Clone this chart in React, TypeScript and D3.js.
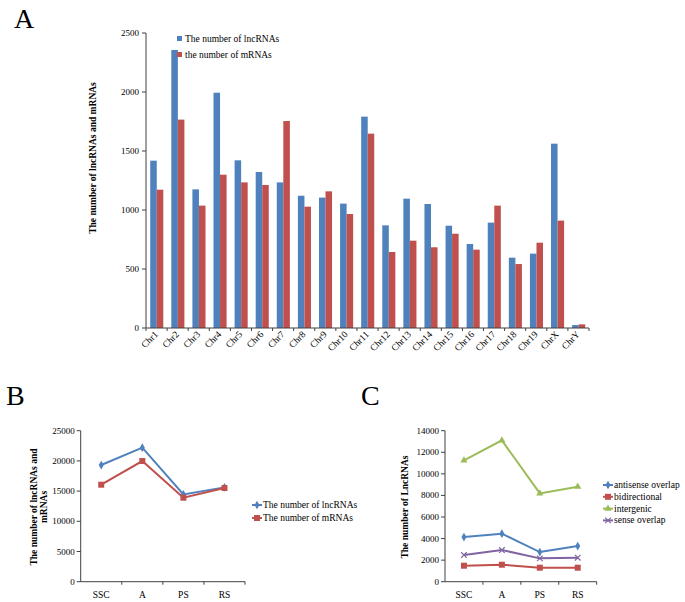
import * as d3 from 'd3'
import { useEffect, useRef } from "react";

const chromosomes = ['Chr1','Chr2','Chr3','Chr4','Chr5','Chr6','Chr7','Chr8','Chr9','Chr10','Chr11','Chr12','Chr13','Chr14','Chr15','Chr16','Chr17','Chr18','Chr19','ChrX','ChrY'];
const lncByChr = [1418, 2356, 1175, 1994, 1421, 1322, 1234, 1121, 1105, 1054, 1791, 870, 1096, 1051, 867, 712, 893, 596, 630, 1562, 25];
const mrnaByChr = [1172, 1766, 1037, 1299, 1234, 1212, 1754, 1028, 1158, 966, 1647, 644, 740, 684, 799, 664, 1037, 542, 723, 910, 31];
const chrTicks = [0, 500, 1000, 1500, 2000, 2500];

const stages = ['SSC', 'A', 'PS', 'RS'];
const lncTotal = [19316, 22185, 14459, 15618];
const mrnaTotal = [16060, 19978, 13907, 15508];
const totalTicks = [0, 5000, 10000, 15000, 20000, 25000];

const antisense = [4141, 4450, 2750, 3307];
const bidirectional = [1483, 1576, 1298, 1298];
const intergenic = [11249, 13104, 8190, 8808];
const senseOverlap = [2472, 2936, 2163, 2225];
const typeTicks = [0, 2000, 4000, 6000, 8000, 10000, 12000, 14000];

const BLUE = '#4F81BD';
const RED = '#C0504D';
const GREEN = '#9BBB59';
const PURPLE = '#8064A2';
const AXIS = '#404040';
const FONT = '"Liberation Serif", "Times New Roman", serif';

const drawMarker = (g, shape, x, y, color) => {
  if (shape === 'diamond') {
    g.append('path').attr('d', d3.symbol(d3.symbolDiamond, 22)()).attr('transform', `translate(${x},${y})`).attr('fill', color);
  } else if (shape === 'square') {
    g.append('rect').attr('x', x - 3).attr('y', y - 3).attr('width', 6).attr('height', 6).attr('fill', color);
  } else if (shape === 'triangle') {
    g.append('path').attr('d', d3.symbol(d3.symbolTriangle, 22)()).attr('transform', `translate(${x},${y})`).attr('fill', color);
  } else {
    g.append('path').attr('d', d3.symbol(d3.symbolX, 22)()).attr('transform', `translate(${x},${y})`)
      .attr('fill', 'none').attr('stroke', color).attr('stroke-width', 1.2);
  }
};

const App = () => {
  const svgRef = useRef(null);

  useEffect(() => {
    const svg = d3.select(svgRef.current);
    svg.selectAll('*').remove();

    // panel letters
    [['A', 14, 28], ['B', 6, 405], ['C', 361, 405]].forEach(([t, x, y]) => {
      svg.append('text').attr('x', x).attr('y', y).attr('font-size', 28).attr('font-family', FONT).text(t);
    });

    // ---------- A: bars per chromosome ----------
    const a = svg.append('g');
    const xA = d3.scaleBand().domain(chromosomes).range([146, 589]);
    const xSub = d3.scaleBand().domain(['lnc', 'm']).range([xA.bandwidth() * 0.2, xA.bandwidth() * 0.82]);
    const yA = d3.scaleLinear().domain([0, 2500]).range([328, 33]);

    chromosomes.forEach((c, i) => {
      a.append('rect').attr('x', xA(c) + xSub('lnc')).attr('y', yA(lncByChr[i]))
        .attr('width', xSub.bandwidth()).attr('height', yA(0) - yA(lncByChr[i])).attr('fill', BLUE);
      a.append('rect').attr('x', xA(c) + xSub('m')).attr('y', yA(mrnaByChr[i]))
        .attr('width', xSub.bandwidth()).attr('height', yA(0) - yA(mrnaByChr[i])).attr('fill', RED);
    });

    a.append('line').attr('x1', 146).attr('x2', 146).attr('y1', yA(2500)).attr('y2', yA(0)).attr('stroke', AXIS);
    a.append('line').attr('x1', 146).attr('x2', 589).attr('y1', yA(0)).attr('y2', yA(0)).attr('stroke', AXIS);
    chrTicks.forEach(t => {
      a.append('line').attr('x1', 142).attr('x2', 146).attr('y1', yA(t)).attr('y2', yA(t)).attr('stroke', AXIS);
      a.append('text').attr('x', 139).attr('y', yA(t) + 3).attr('text-anchor', 'end')
        .attr('font-size', 9).attr('font-family', FONT).text(t);
    });
    chromosomes.forEach(c => {
      a.append('line').attr('x1', xA(c)).attr('x2', xA(c)).attr('y1', yA(0)).attr('y2', yA(0) + 3).attr('stroke', AXIS);
      const cx = xA(c) + xA.bandwidth() / 2 + 2;
      a.append('text').attr('transform', `translate(${cx},${335}) rotate(-45)`).attr('text-anchor', 'end')
        .attr('font-size', 9.5).attr('font-family', FONT).text(c);
    });
    a.append('line').attr('x1', 589).attr('x2', 589).attr('y1', yA(0)).attr('y2', yA(0) + 3).attr('stroke', AXIS);

    a.append('text').attr('transform', 'translate(96,158) rotate(-90)').attr('text-anchor', 'middle')
      .attr('font-size', 9.5).attr('font-weight', 'bold').attr('font-family', FONT)
      .text('The number of lncRNAs and mRNAs');

    [['The number of lncRNAs', BLUE], ['the number of mRNAs', RED]].forEach(([t, col], i) => {
      a.append('rect').attr('x', 177).attr('y', 36 + i * 16).attr('width', 5).attr('height', 5).attr('fill', col);
      a.append('text').attr('x', 185).attr('y', 42 + i * 16).attr('font-size', 9.5).attr('font-family', FONT).text(t);
    });

    // ---------- line panels ----------
    const linePanel = (x0, x1, max, ticks, series, title, legendX, legendY, legendStep) => {
      const g = svg.append('g');
      const x = d3.scaleBand().domain(stages).range([x0, x1]);
      const y = d3.scaleLinear().domain([0, max]).range([581.7, 430.7]);
      g.append('line').attr('x1', x0).attr('x2', x0).attr('y1', y(max)).attr('y2', y(0)).attr('stroke', AXIS);
      g.append('line').attr('x1', x0).attr('x2', x1).attr('y1', y(0)).attr('y2', y(0)).attr('stroke', AXIS);
      ticks.forEach(t => {
        g.append('line').attr('x1', x0 - 4).attr('x2', x0).attr('y1', y(t)).attr('y2', y(t)).attr('stroke', AXIS);
        g.append('text').attr('x', x0 - 6).attr('y', y(t) + 3).attr('text-anchor', 'end')
          .attr('font-size', 9).attr('font-family', FONT).text(t);
      });
      stages.forEach(s => {
        g.append('line').attr('x1', x(s) + x.bandwidth()).attr('x2', x(s) + x.bandwidth())
          .attr('y1', y(0)).attr('y2', y(0) + 3).attr('stroke', AXIS);
        g.append('text').attr('x', x(s) + x.bandwidth() / 2).attr('y', y(0) + 16).attr('text-anchor', 'middle')
          .attr('font-size', 9.5).attr('font-family', FONT).text(s);
      });
      const line = d3.line().x((d, i) => x(stages[i]) + x.bandwidth() / 2).y(d => y(d));
      series.forEach(s => {
        g.append('path').attr('d', line(s.values)).attr('fill', 'none').attr('stroke', s.color).attr('stroke-width', 2);
        s.values.forEach((v, i) => drawMarker(g, s.shape, x(stages[i]) + x.bandwidth() / 2, y(v), s.color));
      });
      series.forEach((s, i) => {
        const ly = legendY + i * legendStep;
        g.append('line').attr('x1', legendX - 5).attr('x2', legendX + 5).attr('y1', ly).attr('y2', ly)
          .attr('stroke', s.color).attr('stroke-width', 2);
        drawMarker(g, s.shape, legendX, ly, s.color);
        g.append('text').attr('x', legendX + 6).attr('y', ly + 3).attr('font-size', 9.5).attr('font-family', FONT).text(s.name);
      });
      return g;
    };

    const b = linePanel(80.7, 245, 25000, totalTicks, [
      { name: 'The number of lncRNAs', values: lncTotal, color: BLUE, shape: 'diamond' },
      { name: 'The number of mRNAs', values: mrnaTotal, color: RED, shape: 'square' },
    ], '', 257, 505, 13);
    const bt = b.append('text').attr('transform', 'translate(37,507) rotate(-90)').attr('text-anchor', 'middle')
      .attr('font-size', 9.5).attr('font-weight', 'bold').attr('font-family', FONT);
    bt.append('tspan').attr('x', 0).attr('dy', 0).text('The number of lncRNAs and');
    bt.append('tspan').attr('x', 0).attr('dy', 10).text('mRNAs');

    const c = linePanel(445, 596.7, 14000, typeTicks, [
      { name: 'antisense overlap', values: antisense, color: BLUE, shape: 'diamond' },
      { name: 'bidirectional', values: bidirectional, color: RED, shape: 'square' },
      { name: 'intergenic', values: intergenic, color: GREEN, shape: 'triangle' },
      { name: 'sense overlap', values: senseOverlap, color: PURPLE, shape: 'x' },
    ], '', 608, 485, 11.8);
    c.append('text').attr('transform', 'translate(408,507) rotate(-90)').attr('text-anchor', 'middle')
      .attr('font-size', 9.5).attr('font-weight', 'bold').attr('font-family', FONT)
      .text('The number of LncRNAs');
  }, []);

  return (
    <svg ref={svgRef} width={685} height={602} style={{ position: 'absolute', left: 0, top: 0, background: '#fff' }} />
  );
};

export default App;
